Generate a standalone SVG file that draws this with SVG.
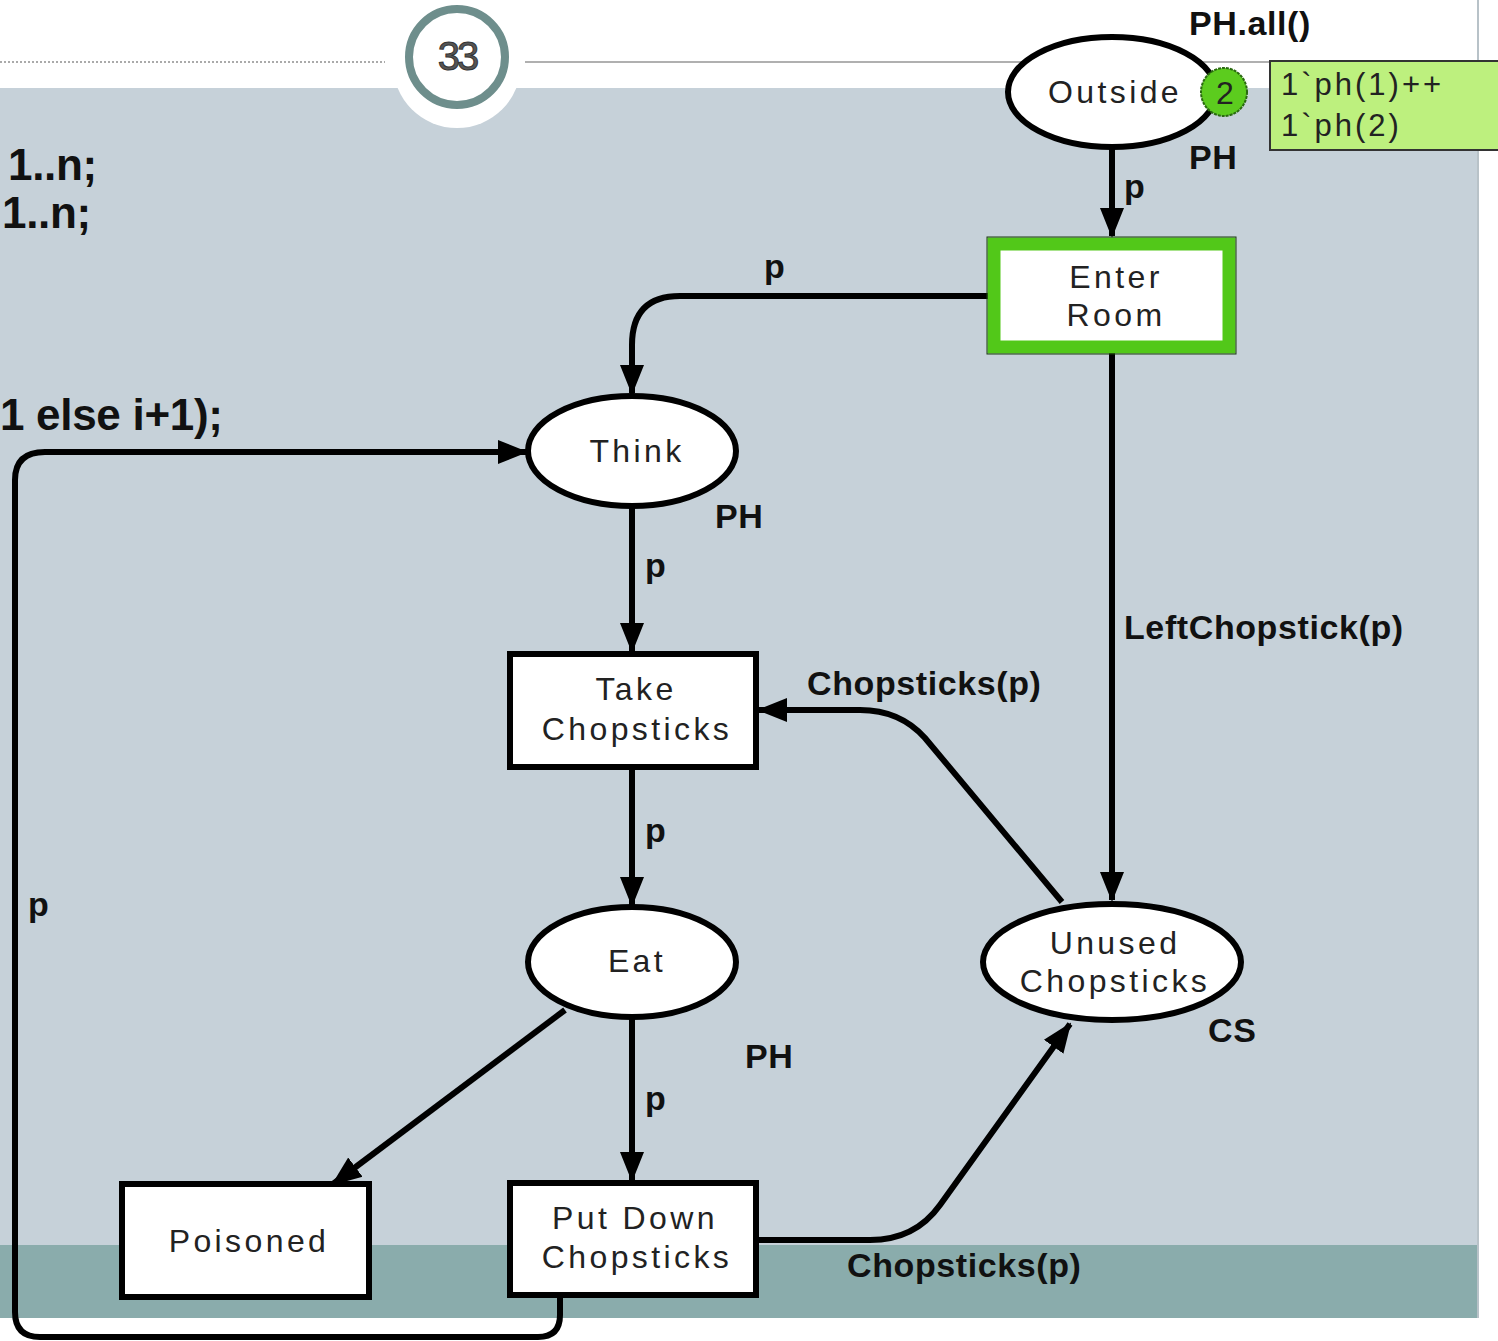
<svg xmlns="http://www.w3.org/2000/svg" width="1498" height="1341" viewBox="0 0 1498 1341">
<defs>
<style>
.bg{fill:#c6d1d9}
.place{fill:#fff;stroke:#000;stroke-width:6}
.trans{fill:#fff;stroke:#000;stroke-width:6}
.nl{font-family:"Liberation Sans",Arial,sans-serif;font-size:32px;fill:#222;text-anchor:middle;letter-spacing:3.4px}
.al{font-family:"Liberation Sans",Arial,sans-serif;font-size:34px;font-weight:bold;fill:#111;letter-spacing:0.6px}
.arc{fill:none;stroke:#000;stroke-width:6}
.side{font-family:"Liberation Sans",Arial,sans-serif;font-size:44px;font-weight:bold;fill:#111;letter-spacing:-0.3px}
.mk{font-family:"Liberation Sans",Arial,sans-serif;font-size:31px;fill:#222;letter-spacing:3px}
</style>
<marker id="arr" viewBox="0 0 30 30" refX="28" refY="15" markerWidth="30" markerHeight="30" orient="auto" markerUnits="userSpaceOnUse">
<path d="M0,3 L30,15 L0,27 z" fill="#000"/>
</marker>
</defs>
<rect x="0" y="0" width="1498" height="1341" fill="#fff"/>
<rect class="bg" x="0" y="88" width="1478" height="1157"/>
<rect x="0" y="1245" width="1478" height="73" fill="#8aacac"/>
<line x1="1478" y1="0" x2="1478" y2="1318" stroke="#b8c2c8" stroke-width="2"/>
<line x1="0" y1="62" x2="385" y2="62" stroke="#aaa" stroke-width="2" stroke-dasharray="2,2"/>
<line x1="525" y1="62" x2="1478" y2="62" stroke="#b0b0b0" stroke-width="2"/>
<circle cx="457" cy="64" r="64" fill="#fff"/>
<circle cx="457" cy="57" r="48" fill="#fff" stroke="#6e8e8c" stroke-width="8"/>
<text x="457" y="70" font-family="Liberation Sans,Arial,sans-serif" font-size="40" fill="#555" stroke="#333" stroke-width="1" text-anchor="middle" letter-spacing="-3">33</text>
<text class="side" x="8" y="180">1..n;</text>
<text class="side" x="2" y="228">1..n;</text>
<text class="side" x="0" y="430">1 else i+1);</text>

<g id="connectors">
<path class="arc" d="M1112,148 L1112,236" marker-end="url(#arr)"/>
<path class="arc" d="M988,296 L680,296 Q632,296 632,345 L632,393" marker-end="url(#arr)"/>
<path class="arc" d="M632,506 L632,651" marker-end="url(#arr)"/>
<path class="arc" d="M632,768 L632,905" marker-end="url(#arr)"/>
<path class="arc" d="M632,1018 L632,1180" marker-end="url(#arr)"/>
<path class="arc" d="M565,1010 L333,1184" marker-end="url(#arr)"/>
<path class="arc" d="M1112,353 L1112,900" marker-end="url(#arr)"/>
<path class="arc" d="M1062,902 L925,738 Q900,710 860,710 L759,710" marker-end="url(#arr)"/>
<path class="arc" d="M757,1240 L870,1240 Q915,1240 940,1205 L1070,1024" marker-end="url(#arr)"/>
<path class="arc" d="M560,1296 L560,1315 Q560,1337 538,1337 L40,1337 Q15,1337 15,1312 L15,480 Q15,452 45,452 L526,452" marker-end="url(#arr)"/>
<text class="al" x="1124" y="198">p</text>
<text class="al" x="764" y="278">p</text>
<text class="al" x="645" y="577">p</text>
<text class="al" x="645" y="842">p</text>
<text class="al" x="645" y="1110">p</text>
<text class="al" x="28" y="916">p</text>
<text class="al" x="1124" y="639">LeftChopstick(p)</text>
<text class="al" x="807" y="695">Chopsticks(p)</text>
<text class="al" x="847" y="1277">Chopsticks(p)</text>
</g>

<g id="outside">
<ellipse class="place" cx="1112" cy="92" rx="104" ry="55"/>
<text class="nl" x="1115" y="103">Outside</text>
<text class="al" x="1189" y="35">PH.all()</text>
<text class="al" x="1189" y="169">PH</text>
<ellipse cx="1224" cy="92" rx="23" ry="24" fill="#5ccc1e" stroke="#2a6a10" stroke-width="2" stroke-dasharray="3,1"/>
<text class="nl" x="1225" y="104" font-size="30" style="letter-spacing:0">2</text>
<rect x="1270" y="61" width="232" height="89" fill="#bdf07e" stroke="#333" stroke-width="2"/>
<text class="mk" x="1281" y="95">1`ph(1)++</text>
<text class="mk" x="1281" y="136">1`ph(2)</text>
</g>

<g id="enter-room">
<rect x="994" y="244" width="235" height="103" fill="#fff" stroke="#52c819" stroke-width="13"/>
<rect x="987" y="237" width="249" height="117" fill="none" stroke="#1a3a10" stroke-width="1"/>
<text class="nl" x="1116" y="288">Enter</text>
<text class="nl" x="1116" y="326">Room</text>
</g>

<g id="think">
<ellipse class="place" cx="632" cy="451" rx="104" ry="55"/>
<text class="nl" x="637" y="462">Think</text>
<text class="al" x="715" y="528">PH</text>
</g>

<g id="take-chopsticks">
<rect class="trans" x="510" y="654" width="246" height="113"/>
<text class="nl" x="636" y="700">Take</text>
<text class="nl" x="637" y="740">Chopsticks</text>
</g>

<g id="eat">
<ellipse class="place" cx="632" cy="962" rx="104" ry="55"/>
<text class="nl" x="637" y="972">Eat</text>
<text class="al" x="745" y="1068">PH</text>
</g>

<g id="put-down">
<rect class="trans" x="510" y="1183" width="246" height="112"/>
<text class="nl" x="635" y="1229">Put Down</text>
<text class="nl" x="637" y="1268">Chopsticks</text>
</g>

<g id="poisoned">
<rect class="trans" x="122" y="1184" width="247" height="113"/>
<text class="nl" x="249" y="1252">Poisoned</text>
</g>

<g id="unused-chopsticks">
<ellipse class="place" cx="1112" cy="962" rx="129" ry="58"/>
<text class="nl" x="1115" y="954">Unused</text>
<text class="nl" x="1115" y="992">Chopsticks</text>
<text class="al" x="1208" y="1042">CS</text>
</g>
</svg>
